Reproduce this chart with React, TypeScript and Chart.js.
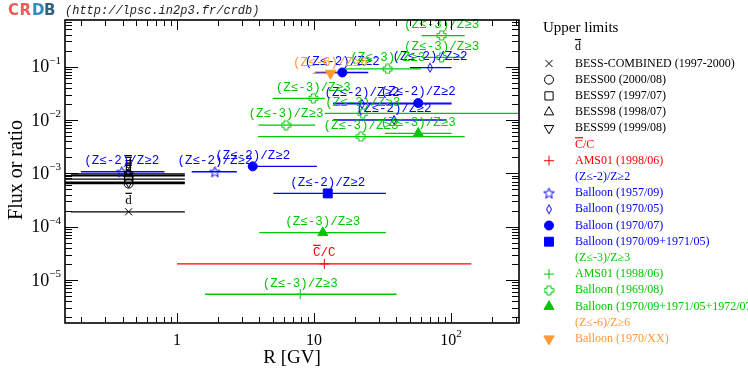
import React, { useEffect, useRef } from 'react';
import { Chart, registerables } from 'chart.js';
import { drawPoint } from 'chart.js/helpers';

Chart.register(...registerables);

// ---- axis ranges (R in GV ; flux or ratio) ----
const X_MIN = 0.152;
const X_MAX = 314;
const Y_MIN = 1.56e-6;
const Y_MAX = 0.75;

const xTickDecades = [0, 1, 2];
const yTickDecades = [-5, -4, -3, -2, -1];

// ---- d̄ upper limits (BESS) ----
const bessCombR = [0.443];
const bessCombLo = [0.168];
const bessCombHi = [1.14];
const bessCombV = [1.9e-4];

const bess00R = [0.443];
const bess00Lo = [0.14];
const bess00Hi = [1.14];
const bess00V = [6.4e-4];

const bess97R = [0.443, 0.443];
const bess97Lo = [0.14, 0.14];
const bess97Hi = [1.14, 1.14];
const bess97V = [9.0e-4, 7.8e-4];

const bess98R = [0.443];
const bess98Lo = [0.168];
const bess98Hi = [1.14];
const bess98V = [9.7e-4];

const bess99R = [0.443];
const bess99Lo = [0.14];
const bess99Hi = [1.14];
const bess99V = [6.8e-4];

// ---- C̄/C (AMS01) ----
const amsCR = [11.9];
const amsCLo = [1.0];
const amsCHi = [141];
const amsCV = [2.0e-5];

// ---- (Z≤-2)/Z≥2 ----
const b1957R = [0.395, 1.89];
const b1957Lo = [0.199, 1.28];
const b1957Hi = [0.81, 2.73];
const b1957V = [1.07e-3, 1.07e-3];

const b197005R = [70.3, 22.4, 38.4];
const b197005Lo = [50.2, 13.8, 13.8];
const b197005Hi = [101, 101, 93];
const b197005V = [0.0957, 0.02, 0.01];

const b197007R = [3.57, 16.1, 57.7];
const b197007Lo = [3.3, 10.2, 13.8];
const b197007Hi = [10.5, 24.9, 101];
const b197007V = [1.35e-3, 0.0778, 0.0208];

const b1970sqR = [12.6];
const b1970sqLo = [5.05];
const b1970sqHi = [33.5];
const b1970sqV = [4.2e-4];

// ---- (Z≤-3)/Z≥3 ----
const amsZ3R = [7.94];
const amsZ3Lo = [1.6];
const amsZ3Hi = [40.1];
const amsZ3V = [5.4e-6];

const b1969R = [85.5, 85.5, 34.5, 9.89, 22.7, 6.25, 22.0];
const b1969Lo = [61.1, 61.1, 15.5, 5.0, 12.0, 3.92, 3.9];
const b1969Hi = [126, 126, 60.4, 12.0, 400, 10.2, 126];
const b1969V = [0.382, 0.149, 0.0906, 0.0255, 0.0133, 0.008, 0.00487];

const b1972R = [57.7, 11.6];
const b1972Lo = [33.0, 3.98];
const b1972Hi = [101, 33.5];
const b1972V = [0.0056, 7.7e-5];

// ---- (Z≤-6)/Z≥6 ----
const b1970xxR = [13.2];
const b1970xxLo = [9.8];
const b1970xxHi = [15.0];
const b1970xxV = [0.0752];

const BLACK = '#000000';
const RED = '#ff0000';
const BLUE = '#0000ff';
const GREEN = '#00c800';
const ORANGE = '#ff9933';

const SERIF = '"Liberation Serif", "Times New Roman", serif';
const MONO = '"Liberation Mono", "Courier New", monospace';

const groups = [
  { title: 'd\u0305', color: BLACK, tag: 'd\u0305', tagFont: `13px ${SERIF}` },
  { title: 'C\u0305/C', color: RED, tag: 'C\u0305/C', tagFont: `12.5px ${MONO}` },
  { title: '(Z≤-2)/Z≥2', color: BLUE, tag: '(Z≤-2)/Z≥2', tagFont: `12.5px ${MONO}` },
  { title: '(Z≤-3)/Z≥3', color: GREEN, tag: '(Z≤-3)/Z≥3', tagFont: `12.5px ${MONO}` },
  { title: '(Z≤-6)/Z≥6', color: ORANGE, tag: '(Z≤-6)/Z≥6', tagFont: `12.5px ${MONO}` },
];

function makeImg(w: number, h: number, draw: (g: CanvasRenderingContext2D) => void) {
  const c = document.createElement('canvas');
  c.width = w;
  c.height = h;
  const g = c.getContext('2d')!;
  draw(g);
  return c;
}

function greekCross(color: string) {
  return makeImg(11, 11, (g) => {
    g.translate(0.5, 0.5);
    g.strokeStyle = color;
    g.lineWidth = 1;
    const m = 5, a = 2, e = 4.5;
    g.beginPath();
    g.moveTo(m - a, m - e); g.lineTo(m + a, m - e); g.lineTo(m + a, m - a); g.lineTo(m + e, m - a);
    g.lineTo(m + e, m + a); g.lineTo(m + a, m + a); g.lineTo(m + a, m + e); g.lineTo(m - a, m + e);
    g.lineTo(m - a, m + a); g.lineTo(m - e, m + a); g.lineTo(m - e, m - a); g.lineTo(m - a, m - a);
    g.closePath();
    g.stroke();
  });
}

function hollowStar(color: string) {
  return makeImg(13, 13, (g) => {
    g.strokeStyle = color;
    g.lineWidth = 1;
    g.beginPath();
    for (let i = 0; i < 10; i++) {
      const r = i % 2 === 0 ? 5.6 : 2.4;
      const ang = -Math.PI / 2 + (i * Math.PI) / 5;
      const px = 6.5 + r * Math.cos(ang);
      const py = 7 + r * Math.sin(ang);
      if (i === 0) g.moveTo(px, py); else g.lineTo(px, py);
    }
    g.closePath();
    g.stroke();
  });
}

function thinDiamond(color: string) {
  return makeImg(8, 12, (g) => {
    g.strokeStyle = color;
    g.lineWidth = 1;
    g.beginPath();
    g.moveTo(4, 1.5); g.lineTo(6.5, 6); g.lineTo(4, 10.5); g.lineTo(1.5, 6);
    g.closePath();
    g.stroke();
  });
}

function drawBarText(ctx: CanvasRenderingContext2D, s: string, x: number, y: number, align: string) {
  const chars: string[] = [];
  const bars: boolean[] = [];
  for (const ch of s) {
    if (ch === '\u0305') bars[chars.length - 1] = true;
    else chars.push(ch);
  }
  const plain = chars.join('');
  const w = ctx.measureText(plain).width;
  const x0 = align === 'center' ? x - w / 2 : align === 'right' ? x - w : x;
  ctx.textAlign = 'left';
  ctx.fillText(plain, x0, y);
  chars.forEach((ch, i) => {
    if (!bars[i]) return;
    const before = ctx.measureText(chars.slice(0, i).join('')).width;
    const m = ctx.measureText(ch);
    const top = y - m.actualBoundingBoxAscent - 2.5;
    ctx.fillRect(x0 + before, top, m.width, 1.2);
  });
}

function pts(R: number[], lo: number[], hi: number[], V: number[]) {
  return R.map((r, i) => ({ x: r, y: V[i], lo: lo[i], hi: hi[i] }));
}

export default function App() {
  const ref = useRef<HTMLCanvasElement>(null);

  useEffect(() => {
    const series: any[] = [
      { label: 'BESS-COMBINED (1997-2000)', g: 0, data: pts(bessCombR, bessCombLo, bessCombHi, bessCombV), pointStyle: 'crossRot', r: 5, fill: false },
      { label: 'BESS00 (2000/08)', g: 0, data: pts(bess00R, bess00Lo, bess00Hi, bess00V), pointStyle: 'circle', r: 4.5, fill: false },
      { label: 'BESS97 (1997/07)', g: 0, data: pts(bess97R, bess97Lo, bess97Hi, bess97V), pointStyle: 'rect', r: 5.8, fill: false },
      { label: 'BESS98 (1998/07)', g: 0, data: pts(bess98R, bess98Lo, bess98Hi, bess98V), pointStyle: 'triangle', r: 5.5, fill: false },
      { label: 'BESS99 (1999/08)', g: 0, data: pts(bess99R, bess99Lo, bess99Hi, bess99V), pointStyle: 'triangle', rot: 180, r: 5.5, fill: false },
      { label: 'AMS01 (1998/06)', g: 1, data: pts(amsCR, amsCLo, amsCHi, amsCV), pointStyle: 'cross', r: 5, fill: false },
      { label: 'Balloon (1957/09)', g: 2, data: pts(b1957R, b1957Lo, b1957Hi, b1957V), pointStyle: hollowStar(BLUE), r: 5, fill: false },
      { label: 'Balloon (1970/05)', g: 2, data: pts(b197005R, b197005Lo, b197005Hi, b197005V), pointStyle: thinDiamond(BLUE), r: 5, fill: false },
      { label: 'Balloon (1970/07)', g: 2, data: pts(b197007R, b197007Lo, b197007Hi, b197007V), pointStyle: 'circle', r: 4.5, fill: true },
      { label: 'Balloon (1970/09+1971/05)', g: 2, data: pts(b1970sqR, b1970sqLo, b1970sqHi, b1970sqV), pointStyle: 'rect', r: 6.3, fill: true },
      { label: 'AMS01 (1998/06)', g: 3, data: pts(amsZ3R, amsZ3Lo, amsZ3Hi, amsZ3V), pointStyle: 'cross', r: 5, fill: false },
      { label: 'Balloon (1969/08)', g: 3, data: pts(b1969R, b1969Lo, b1969Hi, b1969V), pointStyle: greekCross(GREEN), r: 5, fill: false },
      { label: 'Balloon (1970/09+1971/05+1972/07)', g: 3, data: pts(b1972R, b1972Lo, b1972Hi, b1972V), pointStyle: 'triangle', r: 5.8, fill: true },
      { label: 'Balloon (1970/XX)', g: 4, data: pts(b1970xxR, b1970xxLo, b1970xxHi, b1970xxV), pointStyle: 'triangle', rot: 180, r: 6, fill: true },
    ];

    const datasets = series.map((s) => {
      const col = groups[s.g].color;
      return {
        label: s.label,
        data: s.data,
        group: s.g,
        pointStyle: s.pointStyle,
        pointRotation: s.rot || 0,
        pointRadius: s.r,
        pointHoverRadius: s.r,
        borderColor: col,
        backgroundColor: s.fill ? col : 'rgba(0,0,0,0)',
        pointBorderWidth: 1,
        borderWidth: 1,
        showLine: false,
      };
    });

    const errorBars = {
      id: 'errorBars',
      beforeDatasetsDraw(chart: any) {
        const { ctx, chartArea: a, scales } = chart;
        const xs = scales.x, ys = scales.y;
        ctx.save();
        ctx.beginPath();
        ctx.rect(a.left, a.top, a.right - a.left, a.bottom - a.top);
        ctx.clip();
        chart.data.datasets.forEach((ds: any) => {
          ctx.strokeStyle = ds.borderColor;
          ctx.lineWidth = 1.3;
          ds.data.forEach((p: any) => {
            const py = ys.getPixelForValue(p.y);
            ctx.beginPath();
            ctx.moveTo(xs.getPixelForValue(p.lo), py);
            ctx.lineTo(xs.getPixelForValue(p.hi), py);
            ctx.stroke();
          });
        });
        ctx.restore();
      },
      afterDatasetsDraw(chart: any) {
        const { ctx, scales } = chart;
        const xs = scales.x, ys = scales.y;
        ctx.save();
        ctx.textBaseline = 'middle';
        chart.data.datasets.forEach((ds: any) => {
          const gr = groups[ds.group];
          ctx.fillStyle = gr.color;
          ctx.font = gr.tagFont;
          ds.data.forEach((p: any) => {
            const px = xs.getPixelForValue(p.x);
            const py = ys.getPixelForValue(p.y);
            drawBarText(ctx, gr.tag, px, py - 11, 'center');
          });
        });
        ctx.restore();
      },
    };

    const frame = {
      id: 'frame',
      afterDraw(chart: any) {
        const { ctx, chartArea: a, scales } = chart;
        const xs = scales.x, ys = scales.y;
        ctx.save();
        ctx.strokeStyle = '#000';
        ctx.fillStyle = '#000';
        ctx.lineWidth = 1;
        // ticks
        ctx.beginPath();
        for (let d = -1; d <= 2; d++) {
          for (let m = 1; m <= 9; m++) {
            const v = m * Math.pow(10, d);
            if (v < X_MIN || v > X_MAX) continue;
            const px = Math.round(xs.getPixelForValue(v)) + 0.5;
            const len = m === 1 ? 10 : 6;
            ctx.moveTo(px, a.bottom); ctx.lineTo(px, a.bottom - len);
            ctx.moveTo(px, a.top); ctx.lineTo(px, a.top + len);
          }
        }
        for (let d = -6; d <= 0; d++) {
          for (let m = 1; m <= 9; m++) {
            const v = m * Math.pow(10, d);
            if (v < Y_MIN || v > Y_MAX) continue;
            const py = Math.round(ys.getPixelForValue(v)) + 0.5;
            const len = m === 1 ? 13 : 7;
            ctx.moveTo(a.left, py); ctx.lineTo(a.left + len, py);
            ctx.moveTo(a.right, py); ctx.lineTo(a.right - len, py);
          }
        }
        ctx.stroke();
        ctx.lineWidth = 1.6;
        ctx.strokeRect(a.left, a.top, a.right - a.left, a.bottom - a.top);

        // x tick labels
        ctx.textBaseline = 'middle';
        xTickDecades.forEach((d) => {
          const px = xs.getPixelForValue(Math.pow(10, d));
          const y0 = 341;
          ctx.font = `16px ${SERIF}`;
          if (d === 0 || d === 1) {
            ctx.textAlign = 'center';
            ctx.fillText(d === 0 ? '1' : '10', px, y0);
          } else {
            const base = '10';
            const sup = String(d);
            ctx.font = `16px ${SERIF}`;
            const wb = ctx.measureText(base).width;
            ctx.font = `11px ${SERIF}`;
            const ws = ctx.measureText(sup).width;
            const x0 = px - (wb + ws) / 2;
            ctx.textAlign = 'left';
            ctx.font = `16px ${SERIF}`;
            ctx.fillText(base, x0, y0);
            ctx.font = `11px ${SERIF}`;
            ctx.fillText(sup, x0 + wb, y0 - 7);
          }
        });
        // y tick labels
        yTickDecades.forEach((d) => {
          const py = ys.getPixelForValue(Math.pow(10, d));
          const base = '10';
          const sup = '\u2212' + String(-d);
          ctx.font = `18px ${SERIF}`;
          const wb = ctx.measureText(base).width;
          ctx.font = `11px ${SERIF}`;
          const ws = ctx.measureText(sup).width;
          const x0 = 61 - wb - ws;
          ctx.textAlign = 'left';
          ctx.font = `18px ${SERIF}`;
          ctx.fillText(base, x0, py + 1);
          ctx.font = `11px ${SERIF}`;
          ctx.fillText(sup, x0 + wb, py - 6);
        });

        // axis titles
        ctx.font = `19px ${SERIF}`;
        ctx.textAlign = 'center';
        ctx.fillText('R [GV]', 292, 358);
        ctx.save();
        ctx.translate(17, 170);
        ctx.rotate(-Math.PI / 2);
        ctx.font = `20px ${SERIF}`;
        ctx.fillText('Flux or ratio', 0, 0);
        ctx.restore();

        // header
        ctx.font = `bold 15px "DejaVu Sans", sans-serif`;
        ctx.textAlign = 'left';
        const logo: [string, string, number][] = [['C', '#f05a5a', 8], ['R', '#f05a5a', 19.5], ['D', '#2b8cc0', 32], ['B', '#36617e', 44]];
        logo.forEach(([ch, col, lx]) => { ctx.fillStyle = col; ctx.fillText(ch, lx, 11); });
        ctx.fillStyle = '#222';
        ctx.font = `italic 12px ${MONO}`;
        ctx.fillText('(http://lpsc.in2p3.fr/crdb)', 65, 11);

        // legend
        ctx.fillStyle = '#000';
        ctx.font = `15px ${SERIF}`;
        ctx.fillText('Upper limits', 543, 28);
        let row = 0;
        const rowY = (i: number) => 47.3 + 16.2 * i;
        groups.forEach((gr, gi) => {
          ctx.font = `12px ${SERIF}`;
          ctx.fillStyle = gr.color;
          ctx.strokeStyle = gr.color;
          drawBarText(ctx, gr.title, 575, rowY(row), 'left');
          row++;
          chart.data.datasets.forEach((ds: any) => {
            if (ds.group !== gi) return;
            const y = rowY(row);
            ctx.save();
            ctx.fillStyle = ds.backgroundColor;
            ctx.strokeStyle = ds.borderColor;
            ctx.lineWidth = 1;
            drawPoint(ctx, { pointStyle: ds.pointStyle, rotation: ds.pointRotation, radius: ds.pointRadius, borderWidth: 1 } as any, 549, y);
            ctx.restore();
            ctx.fillStyle = gr.color;
            ctx.font = `12px ${SERIF}`;
            ctx.textAlign = 'left';
            ctx.fillText(ds.label, 575, y);
            row++;
          });
        });
        ctx.restore();
      },
    };

    const chart = new Chart(ref.current!, {
      type: 'scatter',
      data: { datasets: datasets as any },
      options: {
        animation: false,
        responsive: false,
        events: [],
        layout: { padding: { left: 65, right: 229, top: 20, bottom: 51 } },
        scales: {
          x: { type: 'logarithmic', min: X_MIN, max: X_MAX, display: false },
          y: { type: 'logarithmic', min: Y_MIN, max: Y_MAX, display: false },
        },
        plugins: { legend: { display: false }, tooltip: { enabled: false } },
      },
      plugins: [errorBars, frame],
    });
    return () => chart.destroy();
  }, []);

  return (
    <div style={{ position: 'absolute', left: 0, top: 0, width: 748, height: 374, background: '#fff' }}>
      <canvas ref={ref} width={748} height={374} style={{ display: 'block' }} />
    </div>
  );
}
